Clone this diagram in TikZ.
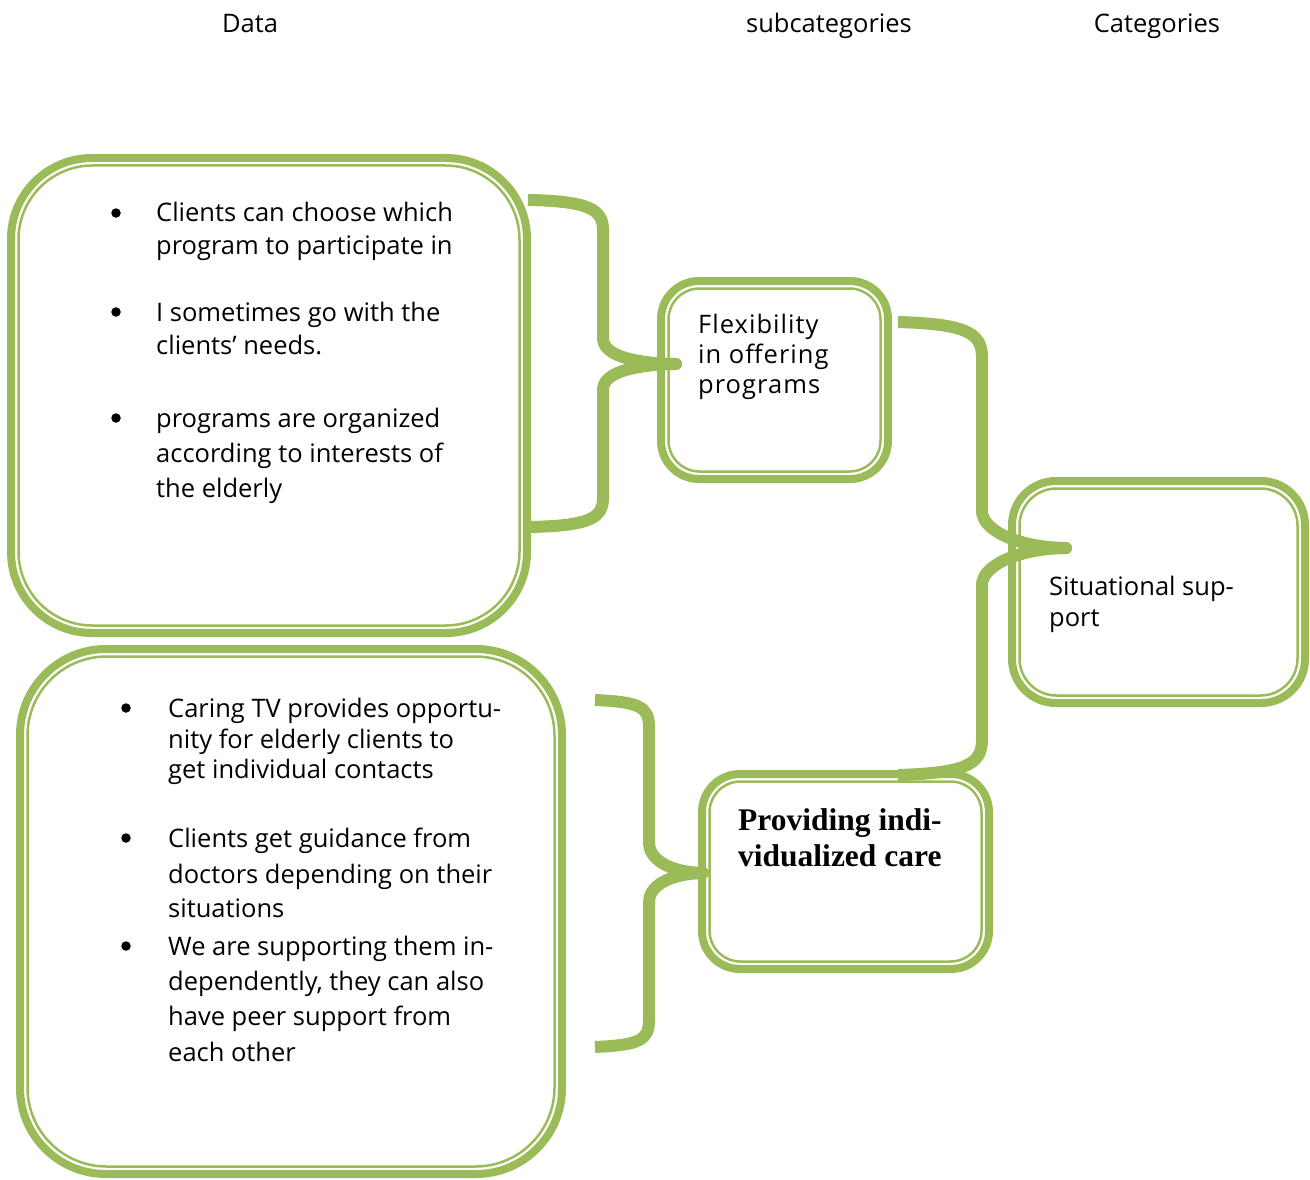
\documentclass[tikz,border=0pt]{standalone}
\usepackage{fontspec}
\setmainfont{Open Sans}
\newfontfamily\timesf{Liberation Serif}
\definecolor{og}{HTML}{9BBB59}
\begin{document}
\begin{tikzpicture}[x=1pt,y=-1pt,
  thickbox/.style={draw=og, line width=8pt, inner sep=0pt, outer sep=0pt, rectangle},
  thinbox/.style={draw=og, line width=2.5pt, inner sep=0pt, outer sep=0pt, rectangle},
  brace/.style={draw=og, line width=12pt, line cap=butt, line join=round},
  tipdot/.style={circle, fill=og, inner sep=0pt, minimum size=12pt},
  txt/.style={anchor=base west, inner sep=0pt, font=\fontsize{25.5}{30}\selectfont},
  ttl/.style={anchor=base, inner sep=0pt, font=\fontsize{25.5}{30}\selectfont},
  wtxt/.style={anchor=base west, inner sep=0pt, font=\fontsize{25.5}{30}\selectfont\addfontfeatures{LetterSpace=4}},
  btxt/.style={anchor=base west, inner sep=0pt, font=\fontsize{31.5}{36}\selectfont\timesf\bfseries},
  bul/.style={circle, fill=black, inner sep=0pt, minimum size=9.5pt}]
\useasboundingbox (0,0) rectangle (1310,1180);

% titles
\node[ttl] (h1) at (250,33) {Data};
\node[ttl] (h2) at (829,33) {subcategories};
\node[ttl] (h3) at (1157,33) {Categories};

% box 1 (data)
\node[thickbox, minimum width=516pt, minimum height=475pt, rounded corners=81pt] (d1) at (269,395.5) {};
\node[thinbox, minimum width=501pt, minimum height=460pt, rounded corners=74pt] (d1in) at (269,395.5) {};
% box 2 (data)
\node[thickbox, minimum width=542pt, minimum height=525pt, rounded corners=86pt] (d2) at (291,911.5) {};
\node[thinbox, minimum width=527pt, minimum height=510pt, rounded corners=79pt] (d2in) at (291,911.5) {};
% subcategory 1
\node[thickbox, minimum width=227pt, minimum height=198pt, rounded corners=38pt] (s1) at (774.5,380) {};
\node[thinbox, minimum width=212pt, minimum height=183pt, rounded corners=31pt] (s1in) at (774.5,380) {};
% subcategory 2
\node[thickbox, minimum width=287pt, minimum height=195pt, rounded corners=38pt] (s2) at (845.5,871.5) {};
\node[thinbox, minimum width=272pt, minimum height=180pt, rounded corners=31pt] (s2in) at (845.5,871.5) {};
% category
\node[thickbox, minimum width=293pt, minimum height=222pt, rounded corners=44pt] (c1) at (1158.5,592) {};
\node[thinbox, minimum width=278pt, minimum height=207pt, rounded corners=37pt] (c1in) at (1158.5,592) {};

% texts box 1
\node[bul] (u11) at (116,213) {};
\node[txt] (t11) at (156,222) {Clients can choose which};
\node[txt] (t12) at (156,254) {program to participate in};
\node[bul] (u12) at (116,312) {};
\node[txt] (t13) at (156,321) {I sometimes go with the};
\node[txt] (t14) at (156,354) {clients’ needs.};
\node[bul] (u13) at (116,418) {};
\node[txt] (t15) at (156,427) {programs are organized};
\node[txt] (t16) at (156,462) {according to interests of};
\node[txt] (t17) at (156,497) {the elderly};

% texts box 2
\node[bul] (u21) at (126,708) {};
\node[txt] (t21) at (168,717) {Caring TV provides opportu-};
\node[txt] (t22) at (168,748) {nity for elderly clients to};
\node[txt] (t23) at (168,778) {get individual contacts};
\node[bul] (u22) at (126,838) {};
\node[txt] (t24) at (168,847) {Clients get guidance from};
\node[txt] (t25) at (168,883) {doctors depending on their};
\node[txt] (t26) at (168,917) {situations};
\node[bul] (u23) at (126,946) {};
\node[txt] (t27) at (168,955) {We are supporting them in-};
\node[txt] (t28) at (168,990) {dependently, they can also};
\node[txt] (t29) at (168,1025) {have peer support from};
\node[txt] (t30) at (168,1061) {each other};

% subcategory texts
\node[wtxt] (f1) at (698,333) {Flexibility};
\node[wtxt] (f2) at (698,363) {in offering};
\node[wtxt] (f3) at (698,393) {programs};
\node[btxt] (p1) at (738,830) {Providing indi-};
\node[btxt] (p2) at (738,866) {vidualized care};
% category text
\node[txt] (c1t1) at (1049,595) {Situational sup-};
\node[txt] (c1t2) at (1049,626) {port};

% brace coordinates
\coordinate (b1a) at (528,200);
\coordinate (b1tip) at (676,364);
\coordinate (b1b) at (528,527);
\coordinate (b2a) at (898,322);
\coordinate (b2tip) at (1066,548);
\coordinate (b2b) at (898,775);
\coordinate (b3a) at (595,700);
\coordinate (b3tip) at (703,873);
\coordinate (b3b) at (595,1047);

% brace 1
\draw[brace] (b1a) .. controls +(62,1) and +(0,-20) .. (603,230) -- (603,338)
  .. controls +(0,16) and +(-48,-1) .. (b1tip)
  .. controls +(-48,1) and +(0,-16) .. (603,390) -- (603,498)
  .. controls +(0,20) and +(62,-1) .. (b1b);
\node[tipdot] (b1dot) at (b1tip) {};
% brace 2
\draw[brace] (b2a) .. controls +(66,2) and +(0,-25) .. (982,357) -- (982,511)
  .. controls +(0,18) and +(-52,-1) .. (b2tip)
  .. controls +(-52,1) and +(0,-18) .. (982,585) -- (982,740)
  .. controls +(0,25) and +(66,-2) .. (b2b);
\node[tipdot] (b2dot) at (b2tip) {};
% brace 3
\draw[brace] (b3a) .. controls +(45,2) and +(0,-20) .. (649,727) -- (649,843)
  .. controls +(0,15) and +(-36,-1) .. (b3tip)
  .. controls +(-36,1) and +(0,-15) .. (649,902) -- (649,1020)
  .. controls +(0,20) and +(45,-2) .. (b3b);
\node[tipdot] (b3dot) at (b3tip) {};
\end{tikzpicture}
\end{document}
